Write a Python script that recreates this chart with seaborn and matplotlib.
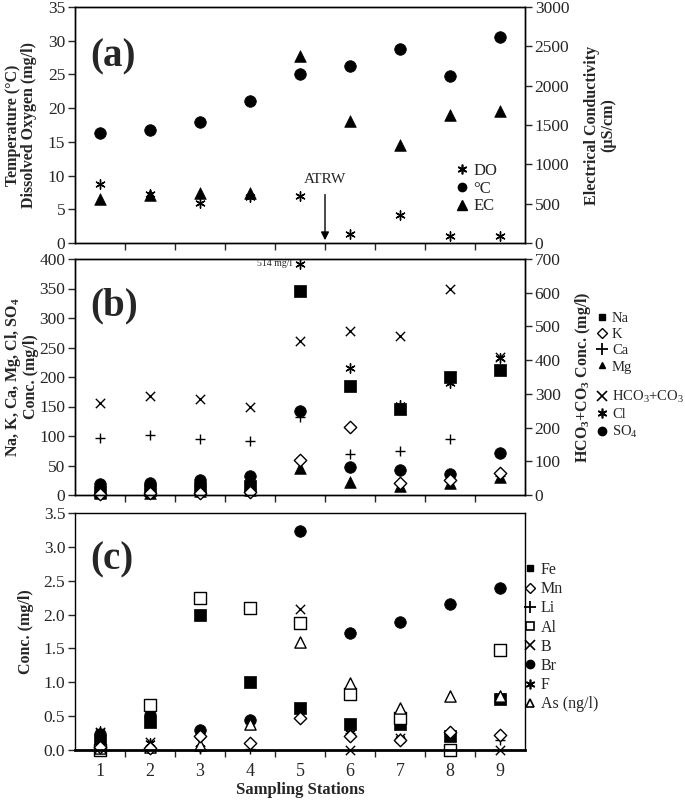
import numpy as np
import pandas as pd
import matplotlib
matplotlib.use("Agg")
import matplotlib.pyplot as plt
from matplotlib.lines import Line2D
import seaborn as sns

# ---------------- data ----------------
stations = [1, 2, 3, 4, 5, 6, 7, 8, 9]

# panel (a)
temp_c = [16.3, 16.8, 18.0, 21.0, 25.0, 26.2, 28.8, 24.7, 30.6]
do_mgl = [8.7, 7.2, 6.0, 6.8, 7.0, 1.4, 4.2, 1.0, 1.0]
ec_us = [555, 610, 640, 640, 2375, 1545, 1240, 1630, 1680]

# panel (b)
na = [5, 8, 12, 15, 345, 185, 145, 200, 212]
k = [2, 3, 4, 5, 60, 115, 20, 25, 38]
ca = [97, 102, 95, 92, 133, 70, 75, 95, 33]
mg = [3, 4, 6, 8, 45, 22, 15, 20, 30]
cl = [3, 4, 6, 9, 514, 215, 152, 190, 233]
so4 = [18, 20, 26, 32, 143, 48, 42, 36, 72]
hco3_co3 = [272, 294, 284, 261, 457, 485, 471, 611, 410]
cl_cap = 392  # where the off-scale Cl value is drawn

# panel (c)
fe = [0.13, 0.42, 2.00, 1.00, 0.62, 0.39, 0.38, 0.20, 0.75]
mn = [0.05, 0.03, 0.20, 0.10, 0.47, 0.20, 0.15, 0.27, 0.22]
li = [0.02, 0.02, 0.01, 0.02, np.nan, 0.25, 0.18, 0.02, 0.15]
al = [0.00, 0.67, 2.25, 2.10, 1.88, 0.82, 0.47, 0.00, 1.47]
b = [0.27, 0.12, 0.12, 0.38, 2.08, 0.00, 0.17, 0.00, 0.00]
br = [0.24, 0.52, 0.30, 0.45, 3.23, 1.73, 1.89, 2.15, 2.39]
f = [0.28, 0.10, 0.03, 0.38, np.nan, 0.25, 0.16, 0.25, 0.80]
as_ngl = [0.03, 0.05, 0.08, 0.38, 1.60, 0.99, 0.62, 0.80, 0.80]

# ---------------- style ----------------
sns.set_theme(style="ticks")
plt.rcParams["font.family"] = ["Liberation Serif", "DejaVu Serif"]
plt.rcParams["mathtext.fontset"] = "custom"
plt.rcParams["mathtext.rm"] = "Liberation Serif"
plt.rcParams["mathtext.bf"] = "Liberation Serif:bold"
plt.rcParams["mathtext.default"] = "regular"
plt.rcParams["axes.linewidth"] = 1.0
plt.rcParams["axes.edgecolor"] = "black"

ASTER = (6, 2, 0)
LABEL_FS = 11.5
TICK_FS = 12.5
FW, FH = 685, 800

fig = plt.figure(figsize=(6.85, 8.0), dpi=100)
L, W = 75 / FW, 450 / FW
ax_a = fig.add_axes([L, 1 - 243 / FH, W, 236 / FH])
ax_b = fig.add_axes([L, 1 - 495 / FH, W, 236 / FH])
ax_c = fig.add_axes([L, 1 - 750 / FH, W, 237 / FH])


def sc(ax, y, marker, filled=True, s=55, lw=1.0):
    d = pd.DataFrame({"x": stations, "y": y})
    if marker in ("+", "x", ASTER):
        sns.scatterplot(data=d, x="x", y="y", ax=ax, marker=marker, s=s,
                        color="black", linewidth=lw, legend=False)
    elif filled:
        sns.scatterplot(data=d, x="x", y="y", ax=ax, marker=marker, s=s,
                        color="black", edgecolor="black", linewidth=0.5,
                        legend=False)
    else:
        sns.scatterplot(data=d, x="x", y="y", ax=ax, marker=marker, s=s,
                        facecolor="white", edgecolor="black", linewidth=1.0,
                        legend=False)


def style_x(ax, labels):
    ax.set_xlim(0.5, 9.5)
    ax.set_xticks(stations)
    ax.set_xticks(np.arange(1.5, 9.0, 1.0), minor=True)
    ax.tick_params(axis="x", which="major", length=0, labelsize=13, pad=9)
    ax.tick_params(axis="x", which="minor", length=5, direction="out", width=1)
    if not labels:
        ax.set_xticklabels([])
    ax.set_xlabel("")
    ax.set_ylabel("")


def ylab(ax, text, xpix, ls=1.0):
    ax.set_ylabel(text, fontsize=LABEL_FS, fontweight="bold", linespacing=ls)
    ax.yaxis.label.set_va("center")
    ax.yaxis.label.set_ha("center")
    ax.yaxis.set_label_coords((xpix - 75) / 450, 0.5)


def legend(handles, labels, xpix, ypix, fs, ls):
    fig.legend(handles, labels, loc="upper left",
               bbox_to_anchor=(xpix / FW, 1 - ypix / FH), frameon=False,
               fontsize=fs, handletextpad=0.1, labelspacing=ls,
               handlelength=1.2, borderpad=0, borderaxespad=0)


def yticks_style(*axes):
    for a in axes:
        a.tick_params(axis="y", direction="out", length=5, labelsize=TICK_FS,
                      width=1, pad=2)


# ---------------- panel (a) ----------------
ax_a2 = ax_a.twinx()
sc(ax_a, do_mgl, ASTER, s=45)
sc(ax_a, temp_c, "o", s=70)
sc(ax_a2, ec_us, "^", s=70)
ax_a.set_ylim(0, 35)
ax_a.set_yticks(np.arange(0, 36, 5))
ax_a2.set_ylim(0, 3000)
ax_a2.set_yticks(np.arange(0, 3001, 500))
style_x(ax_a, False)
yticks_style(ax_a, ax_a2)
ylab(ax_a, "Temperature (°C)\nDissolved Oxygen (mg/l)", 21)
ylab(ax_a2, "Electrical Conductivity\n(µS/cm)", 600)
ax_a.text(0.035, 0.75, "(a)", transform=ax_a.transAxes, fontsize=28,
          fontweight="bold")
ax_a.annotate("", xy=(5.5, 0), xytext=(5.5, 7.6),
              arrowprops=dict(arrowstyle="-|>", color="black", lw=1.0,
                              mutation_scale=12))
ax_a.text(5.5, 8.4, "ATRW", ha="center", va="bottom", fontsize=11)
h_a = [Line2D([], [], ls="", marker=ASTER, color="black", ms=7, mew=1.2),
       Line2D([], [], ls="", marker="o", color="black", ms=6),
       Line2D([], [], ls="", marker="^", color="black", ms=7)]
legend(h_a, ["DO", "°C", "EC"], 452, 163, 12, 0.1)

# ---------------- panel (b) ----------------
ax_b2 = ax_b.twinx()
cl_plot = list(np.minimum(cl, cl_cap))
sc(ax_b2, hco3_co3, "x", s=45)
sc(ax_b, cl_plot, ASTER, s=45)
sc(ax_b, ca, "+", s=55)
sc(ax_b, so4, "o", s=70)
sc(ax_b, na, "s", s=70)
sc(ax_b, mg, "^", s=70)
sc(ax_b, k, "D", filled=False, s=40)
ax_b.set_ylim(0, 400)
ax_b.set_yticks(np.arange(0, 401, 50))
ax_b2.set_ylim(0, 700)
ax_b2.set_yticks(np.arange(0, 701, 100))
style_x(ax_b, False)
yticks_style(ax_b, ax_b2)
ylab(ax_b, "Na, K, Ca, Mg, Cl, SO$_\\mathbf{4}$\nConc. (mg/l)", 21, ls=0.95)
ylab(ax_b2, "HCO$_\\mathbf{3}$+CO$_\\mathbf{3}$ Conc. (mg/l)", 583)
ax_b.text(0.035, 0.76, "(b)", transform=ax_b.transAxes, fontsize=28,
          fontweight="bold")
ax_b.text(4.85, cl_cap, f"{cl[4]} mg/l", ha="right", va="center", fontsize=7)

h_b1 = [Line2D([], [], ls="", marker="s", color="black", ms=5),
        Line2D([], [], ls="", marker="D", mfc="white", mec="black", ms=5),
        Line2D([], [], ls="", marker="+", color="black", ms=8, mew=1.3),
        Line2D([], [], ls="", marker="^", color="black", ms=5)]
h_b2 = [Line2D([], [], ls="", marker="x", color="black", ms=7, mew=1.2),
        Line2D([], [], ls="", marker=ASTER, color="black", ms=7, mew=1.2),
        Line2D([], [], ls="", marker="o", color="black", ms=6)]
legend(h_b1, ["Na", "K", "Ca", "Mg"], 593, 312, 10.5, 0.2)
legend(h_b2, ["HCO$_3$+CO$_3$", "Cl", "SO$_4$"], 593, 389, 10.5, 0.2)

# ---------------- panel (c) ----------------
sc(ax_c, b, "x", s=45)
sc(ax_c, li, "+", s=55)
sc(ax_c, f, ASTER, s=45)
sc(ax_c, br, "o", s=70)
sc(ax_c, fe, "s", s=70)
sc(ax_c, al, "s", filled=False, s=65)
sc(ax_c, as_ngl, "^", filled=False, s=65)
sc(ax_c, mn, "D", filled=False, s=40)
ax_c.set_ylim(0, 3.5)
ax_c.set_yticks(np.arange(0, 3.51, 0.5))
ax_c.set_yticklabels([f"{v:.1f}" for v in np.arange(0, 3.51, 0.5)])
style_x(ax_c, True)
yticks_style(ax_c)
ax_c.spines["bottom"].set_linewidth(2.0)
ylab(ax_c, "Conc. (mg/l)", 26)
ax_c.set_xlabel("Sampling Stations", fontsize=12, fontweight="bold")
ax_c.xaxis.label.set_va("center")
ax_c.xaxis.set_label_coords(0.5, (750 - 790) / 237)
ax_c.text(0.035, 0.76, "(c)", transform=ax_c.transAxes, fontsize=28,
          fontweight="bold")
h_c = [Line2D([], [], ls="", marker="s", color="black", ms=5),
       Line2D([], [], ls="", marker="D", mfc="white", mec="black", ms=5),
       Line2D([], [], ls="", marker="+", color="black", ms=8, mew=1.3),
       Line2D([], [], ls="", marker="s", mfc="white", mec="black", ms=5.5, mew=1.2),
       Line2D([], [], ls="", marker="x", color="black", ms=7, mew=1.2),
       Line2D([], [], ls="", marker="o", color="black", ms=6),
       Line2D([], [], ls="", marker=ASTER, color="black", ms=7, mew=1.2),
       Line2D([], [], ls="", marker="^", mfc="white", mec="black", ms=6, mew=1.2)]
legend(h_c, ["Fe", "Mn", "Li", "Al", "B", "Br", "F", "As (ng/l)"],
       520, 562, 11.5, 0.2)

for a in (ax_a, ax_b, ax_c, ax_a2, ax_b2):
    for sp in a.spines.values():
        sp.set_visible(True)
        sp.set_color("black")
    for coll in a.collections:
        coll.set_clip_on(False)

fig.savefig("out.png", dpi=100)
